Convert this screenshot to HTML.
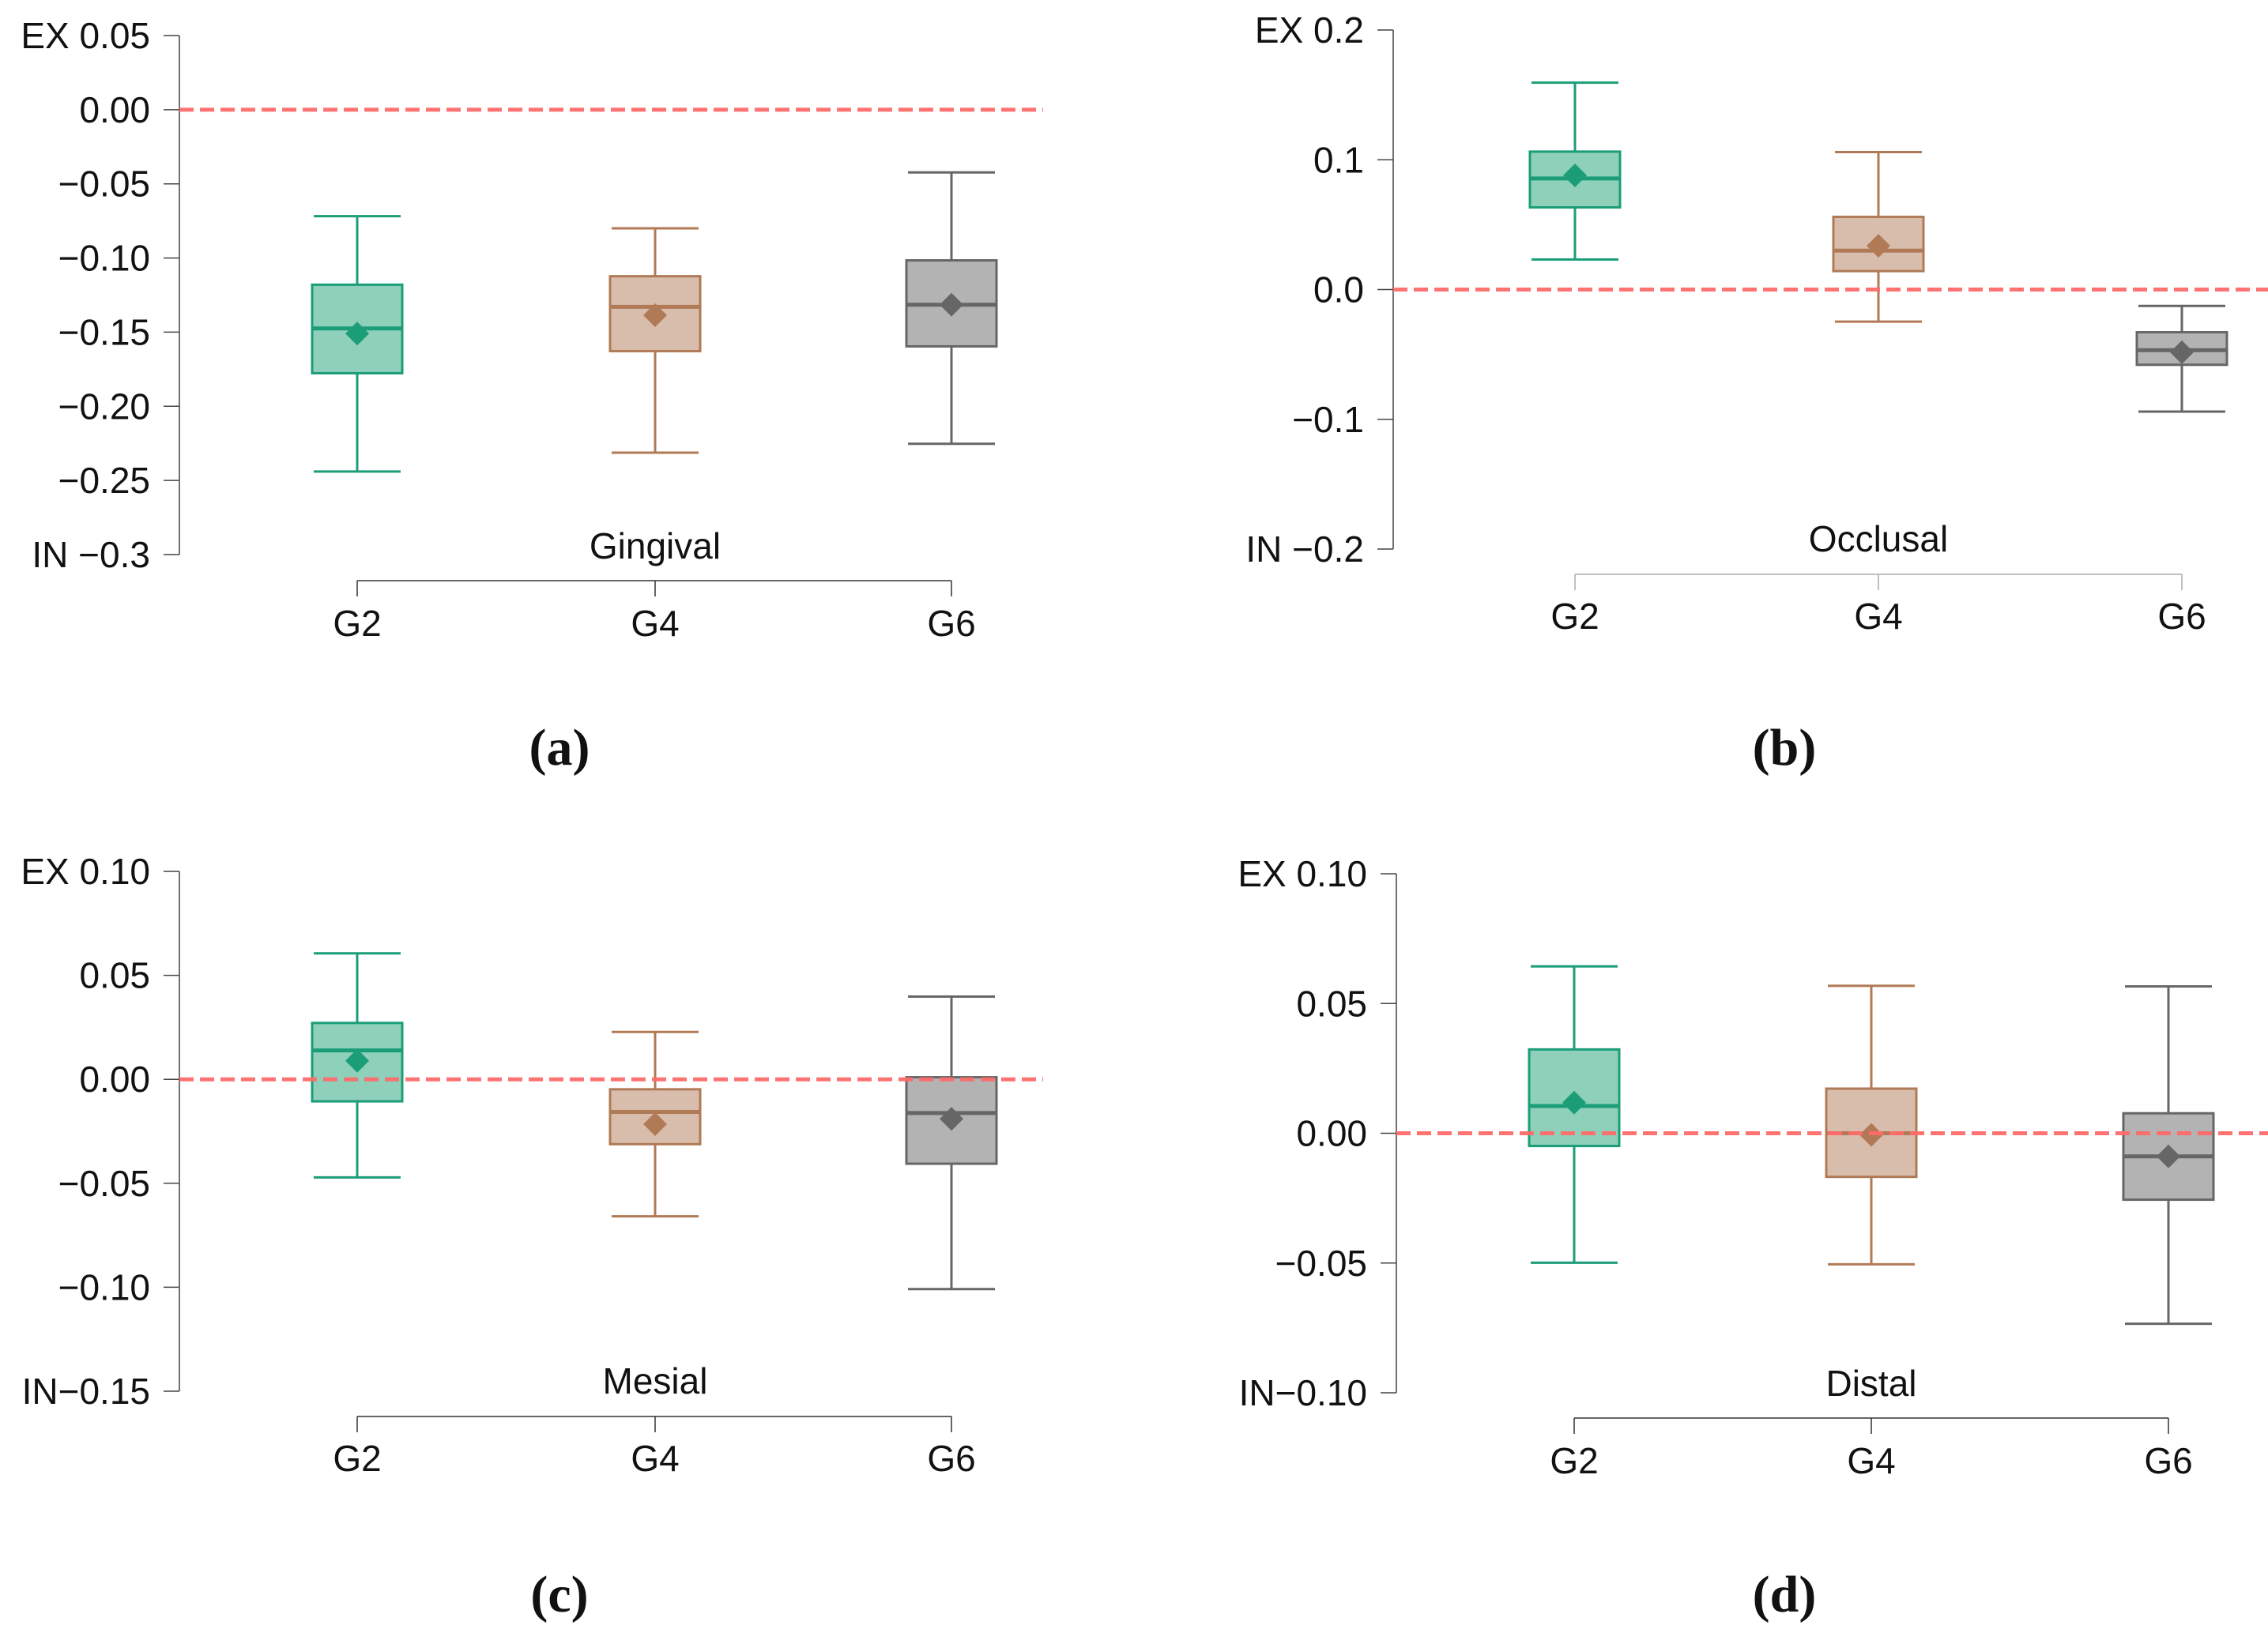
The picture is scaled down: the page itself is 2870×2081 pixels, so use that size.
<!DOCTYPE html>
<html><head><meta charset="utf-8"><style>
html,body{margin:0;padding:0;background:#fff;}
svg{display:block;}
text{font-family:"Liberation Sans",sans-serif;}
text.serif{font-family:"Liberation Serif",serif;}
</style></head><body>
<svg id="chart" width="2870" height="2081" viewBox="0 0 2870 2081" xmlns="http://www.w3.org/2000/svg"></svg>
<script>
const groups = ["G2","G4","G6"];
// per-panel stats: [low, q1, median, q3, high, mean]
const gingivalStats = [[-0.244,-0.1777,-0.1475,-0.118,-0.0718,-0.151],[-0.2313,-0.1628,-0.1329,-0.1123,-0.080,-0.1386],[-0.2253,-0.1596,-0.1315,-0.1016,-0.0423,-0.1315]];
const occlusalStats = [[0.0231,0.0633,0.0856,0.1063,0.1594,0.088],[-0.0247,0.0142,0.030,0.056,0.1059,0.0337],[-0.0941,-0.058,-0.0467,-0.0329,-0.0126,-0.0483]];
const mesialStats = [[-0.0472,-0.0106,0.0139,0.0271,0.0606,0.0089],[-0.0659,-0.0312,-0.0157,-0.0048,0.0228,-0.0216],[-0.1009,-0.0406,-0.0162,0.001,0.0398,-0.019]];
const distalStats = [[-0.0499,-0.0049,0.0105,0.0323,0.0643,0.0118],[-0.0505,-0.0168,0,0.0172,0.0568,-0.0006],[-0.0734,-0.0256,-0.0089,0.0077,0.0566,-0.0089]];
const gingivalTicks = [0.05,0,-0.05,-0.10,-0.15,-0.20,-0.25,-0.3];
const gingivalTickLabels = ["EX 0.05","0.00","−0.05","−0.10","−0.15","−0.20","−0.25","IN −0.3"];
const occlusalTicks = [0.2,0.1,0,-0.1,-0.2];
const occlusalTickLabels = ["EX 0.2","0.1","0.0","−0.1","IN −0.2"];
const mesialTicks = [0.10,0.05,0,-0.05,-0.10,-0.15];
const mesialTickLabels = ["EX 0.10","0.05","0.00","−0.05","−0.10","IN−0.15"];
const distalTicks = [0.10,0.05,0,-0.05,-0.10];
const distalTickLabels = ["EX 0.10","0.05","0.00","−0.05","IN−0.10"];

const NS="http://www.w3.org/2000/svg";
const svg=document.getElementById('chart');
const strokeC=["#1b9e77","#b07a56","#666666"];
const fillC=["#8fd0bb","#d9bdac","#b3b3b3"];
function mk(tag,attrs,parent){const e=document.createElementNS(NS,tag);for(const k in attrs)e.setAttribute(k,attrs[k]);(parent||svg).appendChild(e);return e;}

const panels=[
 {key:"gingival",title:"Gingival",letter:"(a)",stats:gingivalStats,ticks:gingivalTicks,labels:gingivalTickLabels,ax:227,ymax:0.05,ymin:-0.3,ytop:45,ybot:702,cx:[452,829,1204],bax:735,blab:805,ttl:707,let:968,letX:708,dashEnd:1320,baxColor:"#333"},
 {key:"occlusal",title:"Occlusal",letter:"(b)",stats:occlusalStats,ticks:occlusalTicks,labels:occlusalTickLabels,ax:1763,ymax:0.2,ymin:-0.2,ytop:38,ybot:695,cx:[1993,2377,2761],bax:727,blab:796,ttl:698,let:968,letX:2258,dashEnd:2870,baxColor:"#aaa"},
 {key:"mesial",title:"Mesial",letter:"(c)",stats:mesialStats,ticks:mesialTicks,labels:mesialTickLabels,ax:227,ymax:0.10,ymin:-0.15,ytop:1103,ybot:1761,cx:[452,829,1204],bax:1793,blab:1862,ttl:1764,let:2040,letX:708,dashEnd:1320,baxColor:"#333"},
 {key:"distal",title:"Distal",letter:"(d)",stats:distalStats,ticks:distalTicks,labels:distalTickLabels,ax:1767,ymax:0.10,ymin:-0.10,ytop:1106,ybot:1763,cx:[1992,2368,2744],bax:1795,blab:1865,ttl:1767,let:2040,letX:2258,dashEnd:2870,baxColor:"#333"}
];

panels.forEach(p=>{
 const g=mk('g',{});
 
 
 const y=v=>p.ytop+(p.ymax-v)/(p.ymax-p.ymin)*(p.ybot-p.ytop);
 const yax=mk('line',{x1:p.ax,x2:p.ax,y1:y(p.ymax),y2:y(p.ymin),stroke:"#444","stroke-width":1.5},g);
 
 
 p.ticks.forEach((t,i)=>{
  const tk=mk('line',{x1:p.ax-20,x2:p.ax,y1:y(t),y2:y(t),stroke:"#444","stroke-width":1.5},g);
  
  
  const tx=mk('text',{x:p.ax-37,y:y(t)+16,"font-size":46,"text-anchor":"end",fill:"#111"},g);
  tx.textContent=p.labels[i];
  
  
 });
 p.stats.forEach((s,i)=>{
  const cx=p.cx[i],hw=57,sc=strokeC[i];
  const bg=mk('g',{},g);
  
  
  mk('line',{x1:cx,x2:cx,y1:y(s[4]),y2:y(s[3]),stroke:sc,"stroke-width":3},bg);
  mk('line',{x1:cx,x2:cx,y1:y(s[1]),y2:y(s[0]),stroke:sc,"stroke-width":3},bg);
  mk('line',{x1:cx-55,x2:cx+55,y1:y(s[4]),y2:y(s[4]),stroke:sc,"stroke-width":3},bg);
  mk('line',{x1:cx-55,x2:cx+55,y1:y(s[0]),y2:y(s[0]),stroke:sc,"stroke-width":3},bg);
  mk('rect',{x:cx-hw,y:y(s[3]),width:2*hw,height:y(s[1])-y(s[3]),fill:fillC[i],stroke:sc,"stroke-width":3},bg);
  mk('line',{x1:cx-hw,x2:cx+hw,y1:y(s[2]),y2:y(s[2]),stroke:sc,"stroke-width":5},bg);
  const my=y(s[5]);
  mk('polygon',{points:`${cx},${my-15} ${cx+15},${my} ${cx},${my+15} ${cx-15},${my}`,fill:sc},bg);
 });
 const dl=mk('line',{x1:p.ax,x2:p.dashEnd,y1:y(0),y2:y(0),stroke:"#ff6b6b","stroke-width":5,"stroke-dasharray":"18,8","opacity":0.95},g);
 
 
 const bx=mk('line',{x1:p.cx[0],x2:p.cx[2],y1:p.bax,y2:p.bax,stroke:p.baxColor,"stroke-width":1.5},g);
 
 
 groups.forEach((gr,i)=>{
  mk('line',{x1:p.cx[i],x2:p.cx[i],y1:p.bax,y2:p.bax+20,stroke:p.baxColor,"stroke-width":1.5},g);
  const t=mk('text',{x:p.cx[i],y:p.blab,"font-size":46,"text-anchor":"middle",fill:"#111"},g);
  t.textContent=gr;
  
  
 });
 const tt=mk('text',{x:p.cx[1],y:p.ttl,"font-size":46,"text-anchor":"middle",fill:"#111"},g);
 tt.textContent=p.title;
 
 
 const lt=mk('text',{class:"serif",x:p.letX,y:p.let,"font-size":66,"font-weight":"bold","text-anchor":"middle",fill:"#111",style:"font-family:'Liberation Serif',serif"},g);
 lt.textContent=p.letter;
 
 
});
</script>
</body></html>
